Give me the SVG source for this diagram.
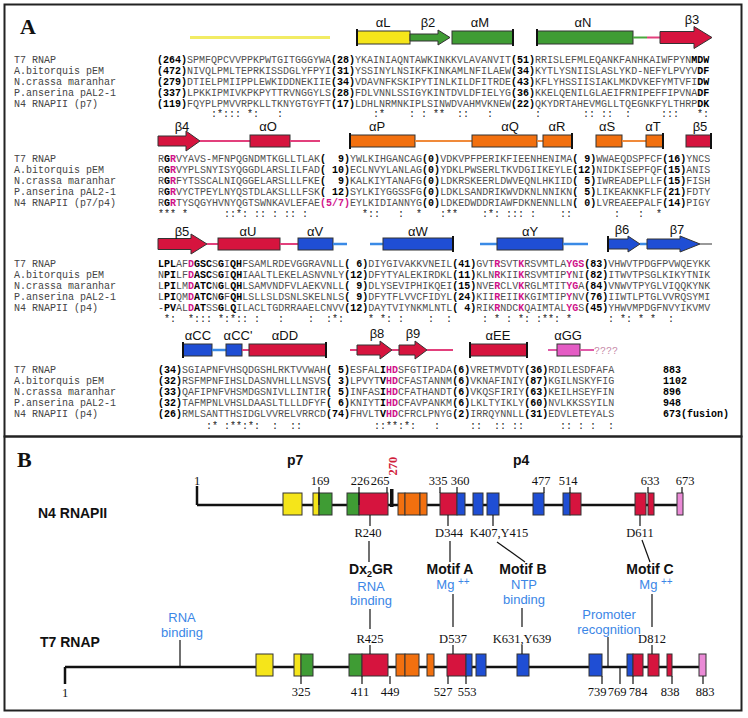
<svg xmlns="http://www.w3.org/2000/svg" width="748" height="718" viewBox="0 0 748 718">
<style>
.nm{font-family:"Liberation Mono",monospace;font-size:10px;fill:#444}
.sq{font-family:"Liberation Mono",monospace;font-size:10px;fill:#505050}
.b{font-weight:bold;fill:#000}
.m{font-weight:bold;fill:#d0128a}
.cs{font-family:"Liberation Mono",monospace;font-size:10px;fill:#222}
.ss{font-family:"Liberation Sans",Arial,sans-serif;font-size:13px;fill:#111;text-anchor:middle}
.pl{font-family:"Liberation Serif","Times New Roman",serif;font-weight:bold;font-size:22px;fill:#111}
.frame{fill:none;stroke:#222;stroke-width:2}
.ly{stroke:#f2ec64;stroke-width:3}
.lg{stroke:#4aa83e;stroke-width:2}
.lr{stroke:#e2407c;stroke-width:2}
.lo{stroke:#f08a3a;stroke-width:2}
.lb{stroke:#3a8ae6;stroke-width:2.5}
.lm{stroke:#e05aa8;stroke-width:2}
.lgr{stroke:#999;stroke-width:2}
.by{fill:#f5e51a;stroke:#333;stroke-width:1}
.bg{fill:#3f9c34;stroke:#333;stroke-width:1}
.br{fill:#d6143e;stroke:#333;stroke-width:1}
.bo{fill:#f2700f;stroke:#333;stroke-width:1}
.bb{fill:#1f4ed4;stroke:#333;stroke-width:1}
.bm{fill:#e45cc4;stroke:#333;stroke-width:1}
.bp{fill:#ea8ad6;stroke:#333;stroke-width:1}
.bar{stroke:#111;stroke-width:2}
.num{font-family:"Liberation Serif","Times New Roman",serif;font-size:12.5px;fill:#111;text-anchor:middle}
.big{font-family:"Liberation Sans",Arial,sans-serif;font-weight:bold;font-size:14px;fill:#111}
.mot{font-family:"Liberation Sans",Arial,sans-serif;font-weight:bold;font-size:14px;fill:#111;text-anchor:middle}
.blue{font-family:"Liberation Sans",Arial,sans-serif;font-size:13px;fill:#3b86e6;text-anchor:middle}
.tk{stroke:#111;stroke-width:1.2}
.axis{stroke:#111;stroke-width:2.5}
</style>
<rect x="0" y="0" width="748" height="718" fill="#fff"/>
<rect class="frame" x="4.5" y="4.5" width="737" height="432"/>
<rect class="frame" x="4.5" y="436.5" width="737" height="274"/>

<g id="panelA">
<text class="pl" x="20" y="34">A</text>

<g id="block1">
<g id="ss1">
<line class="ly" x1="190" y1="37.5" x2="330" y2="37.5"/>
<rect class="by" x="357" y="31" width="53" height="13"/><line class="bar" x1="357" y1="29" x2="357" y2="46"/>
<polygon class="bg" points="410,34 438,34 438,30 450,37.5 438,45 438,41 410,41"/>
<rect class="bg" x="452" y="31" width="61" height="13"/><line class="bar" x1="513" y1="29" x2="513" y2="46"/>
<rect class="bg" x="537" y="31" width="96" height="13"/><line class="bar" x1="537" y1="29" x2="537" y2="46"/>
<line class="lg" x1="633" y1="37.5" x2="647" y2="37.5"/><line class="lr" x1="647" y1="37.5" x2="660" y2="37.5"/>
<polygon class="br" points="660,31.5 694,31.5 694,26.5 712,37.5 694,48.5 694,43.5 660,43.5"/>
<text class="ss" x="383" y="27">αL</text><text class="ss" x="428" y="27">β2</text><text class="ss" x="480" y="27">αM</text><text class="ss" x="583" y="27">αN</text><text class="ss" x="692" y="24">β3</text>
</g>
<text class="nm" x="14" y="63">T7 RNAP</text>
<text class="nm" x="14" y="74">A.bitorquis pEM</text>
<text class="nm" x="14" y="85">N.crassa maranhar</text>
<text class="nm" x="14" y="96">P.anserina pAL2-1</text>
<text class="nm" x="14" y="107">N4 RNAPII (p7)</text>
<text class="sq" x="157" y="63"><tspan class="b">(264)</tspan>SPMFQPCVVPPKPWTGITGGGYWA<tspan class="b">(28)</tspan>YKAINIAQNTAWKINKKVLAVANVIT<tspan class="b">(51)</tspan>RRISLEFMLEQANKFANHKAIWFPYN<tspan class="b">MDW</tspan></text>
<text class="sq" x="157" y="74"><tspan class="b">(472)</tspan>NIVQLPMLTEPRKISSDGLYFPYI<tspan class="b">(31)</tspan>YSSINYLNSIKFKINKAMLNFILAEW<tspan class="b">(34)</tspan>KYTLYSNIISLASLYKD-NEFYLPVYV<tspan class="b">DF</tspan></text>
<text class="sq" x="157" y="85"><tspan class="b">(279)</tspan>DTIELPMIIPPLEWKIDDNEKIIE<tspan class="b">(34)</tspan>VDAVNFKSKIPYTINLKILDFITRDE<tspan class="b">(43)</tspan>KFLYHSSIISIAKLMKDVKEFYMTVFI<tspan class="b">DW</tspan></text>
<text class="sq" x="157" y="96"><tspan class="b">(337)</tspan>LPKKIPMIVKPKPYTTRVNGGYLS<tspan class="b">(28)</tspan>FDLVNNLSSIGYKINTDVLDFIELYG<tspan class="b">(36)</tspan>KKELQENILGLAEIFRNIPEFFIPVNA<tspan class="b">DF</tspan></text>
<text class="sq" x="157" y="107"><tspan class="b">(119)</tspan>FQYPLPMVVRPKLLTKNYGTGYFT<tspan class="b">(17)</tspan>LDHLNRMNKIPLSINWDVAHMVKNEW<tspan class="b">(22)</tspan>QKYDRTAHEVMGLLTQEGNKFYLTHRP<tspan class="b">DK</tspan></text>
<text class="cs" y="117"><tspan x="211">:*:::</tspan><tspan x="247">*:</tspan><tspan x="277">:</tspan><tspan x="373">:*</tspan><tspan x="409">:</tspan><tspan x="421">:</tspan><tspan x="433">**</tspan><tspan x="457">::</tspan><tspan x="487">:</tspan><tspan x="535">:</tspan><tspan x="583">::</tspan><tspan x="601">::</tspan><tspan x="625">:</tspan><tspan x="661">:::</tspan><tspan x="697">*:</tspan></text>
</g>

<g id="block2">
<g id="ss2">
<polygon class="br" points="158,136 186,136 186,131 200,141 186,151 186,146 158,146"/>
<line class="lr" x1="200" y1="141" x2="250" y2="141"/>
<rect class="br" x="250" y="135" width="40" height="12"/>
<line class="lr" x1="290" y1="141" x2="320" y2="141"/>
<rect class="bo" x="350" y="135" width="65" height="12"/><line class="bar" x1="350" y1="133" x2="350" y2="149"/>
<line class="lo" x1="415" y1="141" x2="472" y2="141"/>
<rect class="bo" x="472" y="135" width="65" height="12"/>
<line class="lo" x1="537" y1="141" x2="543" y2="141"/>
<rect class="bo" x="543" y="135" width="29" height="12"/><line class="bar" x1="572" y1="133" x2="572" y2="149"/>
<rect class="bo" x="596" y="135" width="26" height="12"/>
<line class="lo" x1="622" y1="141" x2="646" y2="141"/>
<rect class="bo" x="646" y="135" width="17" height="12"/><line class="bar" x1="663" y1="133" x2="663" y2="149"/>
<rect class="br" x="686" y="135" width="25" height="12"/><line class="bar" x1="711" y1="133" x2="711" y2="149"/>
<text class="ss" x="182" y="131">β4</text><text class="ss" x="268" y="131">αO</text><text class="ss" x="377" y="131">αP</text><text class="ss" x="510" y="131">αQ</text><text class="ss" x="557" y="131">αR</text><text class="ss" x="607" y="131">αS</text><text class="ss" x="653" y="131">αT</text><text class="ss" x="700" y="131">β5</text>
</g>
<text class="nm" x="14" y="162">T7 RNAP</text>
<text class="nm" x="14" y="173">A.bitorquis pEM</text>
<text class="nm" x="14" y="184">N.crassa maranhar</text>
<text class="nm" x="14" y="195">P.anserina pAL2-1</text>
<text class="nm" x="14" y="206">N4 RNAPII (p7/p4)</text>
<text class="sq" x="158" y="162">R<tspan class="b">G</tspan><tspan class="m">R</tspan>VYAVS-MFNPQGNDMTKGLLTLAK<tspan class="b">(&#160;&#160;9)</tspan>YWLKIHGANCAG<tspan class="b">(0)</tspan>VDKVPFPERIKFIEENHENIMA<tspan class="b">(&#160;9)</tspan>WWAEQDSPFCF<tspan class="b">(16)</tspan>YNCS</text>
<text class="sq" x="158" y="173">R<tspan class="b">G</tspan><tspan class="m">R</tspan>VYPLSNYISYQGGDLARSLILFAD<tspan class="b">(&#160;10)</tspan>ECLNVYLANLAG<tspan class="b">(0)</tspan>YDKLPWSERLTKVDGIIKEYLE<tspan class="b">(12)</tspan>NIDKISEPFQF<tspan class="b">(15)</tspan>ANIS</text>
<text class="sq" x="158" y="184">R<tspan class="b">G</tspan><tspan class="m">R</tspan>FYTSSCALNIQGGELARSLLLFKE<tspan class="b">(&#160;&#160;9)</tspan>KALKIYTANAFG<tspan class="b">(0)</tspan>LDKRSKEERLDWVEQNLHKIID<tspan class="b">(&#160;5)</tspan>IWREADEPLLF<tspan class="b">(15)</tspan>FISH</text>
<text class="sq" x="158" y="195">R<tspan class="b">G</tspan><tspan class="m">R</tspan>VYCTPEYLNYQSTDLAKSLLLFSK<tspan class="b">(&#160;12)</tspan>SYLKIYGGSSFG<tspan class="b">(0)</tspan>LDKLSANDRIKWVDKNLNNIKN<tspan class="b">(&#160;5)</tspan>LIKEAKNKFLF<tspan class="b">(21)</tspan>FDTY</text>
<text class="sq" x="158" y="206">R<tspan class="b">G</tspan><tspan class="m">R</tspan>TYSQGYHVNYQGTSWNKAVLEFAE<tspan class="m">(5/7)</tspan>EYLKIDIANNYG<tspan class="b">(0)</tspan>LDKEDWDDRIAWFDKNENNLLN<tspan class="b">(&#160;0)</tspan>LVREAEEPALF<tspan class="b">(14)</tspan>PIGY</text>
<text class="cs" y="217"><tspan x="158">***</tspan><tspan x="182">*</tspan><tspan x="224">::*:</tspan><tspan x="254">::</tspan><tspan x="272">:</tspan><tspan x="284">::</tspan><tspan x="302">:</tspan><tspan x="362">*::</tspan><tspan x="398">:</tspan><tspan x="416">*</tspan><tspan x="440">:**</tspan><tspan x="482">:*:</tspan><tspan x="506">:::</tspan><tspan x="530">:</tspan><tspan x="560">::</tspan><tspan x="614">:</tspan><tspan x="638">:</tspan><tspan x="656">*</tspan></text>
</g>

<g id="block3">
<g id="ss3">
<polygon class="br" points="158,238.5 191,238.5 191,234 207,244 191,254 191,249.5 158,249.5"/>
<line class="lr" x1="207" y1="244" x2="218" y2="244"/>
<rect class="br" x="218" y="238" width="62" height="12"/>
<line class="lr" x1="280" y1="244" x2="298" y2="244"/>
<rect class="bb" x="298" y="238" width="35" height="12"/>
<line class="lb" x1="333" y1="244" x2="347" y2="244"/>
<line class="lb" x1="370" y1="244" x2="383" y2="244"/>
<rect class="bb" x="383" y="238" width="70" height="12"/><line class="bar" x1="453" y1="236" x2="453" y2="252"/>
<line class="lb" x1="480" y1="244" x2="497" y2="244"/>
<rect class="bb" x="497" y="238" width="66" height="12"/>
<line class="lb" x1="563" y1="244" x2="588" y2="244"/>
<polygon class="bb" points="608,239 628,239 628,236 640,244 628,252 628,249 608,249"/><line class="bar" x1="608" y1="236" x2="608" y2="252"/>
<line class="lb" x1="640" y1="244" x2="647" y2="244"/>
<polygon class="bb" points="647,239 680,239 680,236 700,244 680,252 680,249 647,249"/>
<line class="lgr" x1="700" y1="244" x2="712" y2="244"/>
<text class="ss" x="182" y="236">β5</text><text class="ss" x="248" y="236">αU</text><text class="ss" x="315" y="236">αV</text><text class="ss" x="418" y="236">αW</text><text class="ss" x="530" y="236">αY</text><text class="ss" x="622" y="234">β6</text><text class="ss" x="677" y="234">β7</text>
</g>
<text class="nm" x="14" y="267">T7 RNAP</text>
<text class="nm" x="14" y="278">A.bitorquis pEM</text>
<text class="nm" x="14" y="289">N.crassa maranhar</text>
<text class="nm" x="14" y="300">P.anserina pAL2-1</text>
<text class="nm" x="14" y="311">N4 RNAPII (p4)</text>
<text class="sq" x="158" y="267"><tspan class="b">LPL</tspan>AF<tspan class="m">D</tspan><tspan class="b">GSC</tspan>S<tspan class="b">G</tspan>I<tspan class="b">QH</tspan>FSAMLRDEVGGRAVNLL<tspan class="b">(&#160;6)</tspan>DIYGIVAKKVNEIL<tspan class="b">(41)</tspan>GVT<tspan class="m">R</tspan>SVT<tspan class="m">K</tspan>RSVMTLA<tspan class="m">YGS</tspan><tspan class="b">(83)</tspan>VHWVTPDGFPVWQEYKK</text>
<text class="sq" x="158" y="278">N<tspan class="b">PI</tspan>LF<tspan class="m">D</tspan><tspan class="b">ASC</tspan>S<tspan class="b">G</tspan>I<tspan class="b">QH</tspan>IAALTLEKELASNVNLY<tspan class="b">(12)</tspan>DFYTYALEKIRDKL<tspan class="b">(11)</tspan>KLN<tspan class="m">R</tspan>KII<tspan class="m">K</tspan>RSVMTIP<tspan class="m">Y</tspan>NI<tspan class="b">(82)</tspan>ITWVTPSGLKIKYTNIK</text>
<text class="sq" x="158" y="289">L<tspan class="b">PI</tspan>LM<tspan class="m">D</tspan><tspan class="b">ATC</tspan>N<tspan class="b">G</tspan>L<tspan class="b">QH</tspan>LSAMVNDFVLAEKVNLL<tspan class="b">(&#160;9)</tspan>DLYSEVIPHIKQEI<tspan class="b">(15)</tspan>NVE<tspan class="m">R</tspan>CLV<tspan class="m">K</tspan>RGLMTIT<tspan class="m">YG</tspan>A<tspan class="b">(84)</tspan>VNWVTPYGLVIQQKYNK</text>
<text class="sq" x="158" y="300">L<tspan class="b">PI</tspan>QM<tspan class="m">D</tspan><tspan class="b">ATC</tspan>N<tspan class="b">G</tspan>F<tspan class="b">QH</tspan>LSLLSLDSNLSKELNLS<tspan class="b">(&#160;9)</tspan>DFYTFLVVCFIDYL<tspan class="b">(24)</tspan>KII<tspan class="m">R</tspan>EII<tspan class="m">K</tspan>KGIMTIP<tspan class="m">Y</tspan>NV<tspan class="b">(76)</tspan>IIWTLPTGLVVRQSYMI</text>
<text class="sq" x="158" y="311">-<tspan class="b">PV</tspan>AL<tspan class="m">D</tspan><tspan class="b">AT</tspan>SS<tspan class="b">G</tspan>L<tspan class="b">Q</tspan>ILACLTGDRRAAELCNVV<tspan class="b">(12)</tspan>DAYTVIYNKMLNTL<tspan class="b">(&#160;4)</tspan>RIK<tspan class="m">R</tspan>NDC<tspan class="m">K</tspan>QAIMTAL<tspan class="m">YG</tspan>S<tspan class="b">(45)</tspan>YHWVMPDGFNVYIKVMV</text>
<text class="cs" y="322"><tspan x="164">*:</tspan><tspan x="188">*:::</tspan><tspan x="218">*:*::</tspan><tspan x="254">:</tspan><tspan x="278">:</tspan><tspan x="308">:</tspan><tspan x="326">:*:</tspan><tspan x="368">*</tspan><tspan x="380">*:</tspan><tspan x="398">:</tspan><tspan x="428">:</tspan><tspan x="446">:</tspan><tspan x="482">:</tspan><tspan x="494">*</tspan><tspan x="506">:</tspan><tspan x="518">*:</tspan><tspan x="536">:**:</tspan><tspan x="566">*</tspan><tspan x="608">:</tspan><tspan x="620">*:</tspan><tspan x="638">*</tspan><tspan x="650">*</tspan><tspan x="668">:</tspan></text>
</g>

<g id="block4">
<g id="ss4">
<rect class="bb" x="183" y="344" width="29" height="12"/><line class="bar" x1="183" y1="342" x2="183" y2="358"/>
<line class="lb" x1="212" y1="350" x2="226" y2="350"/>
<rect class="bb" x="226" y="344" width="16" height="12"/>
<line class="lr" x1="242" y1="350" x2="249" y2="350"/>
<rect class="br" x="249" y="344" width="77" height="12"/><line class="bar" x1="326" y1="342" x2="326" y2="358"/>
<line class="lr" x1="350" y1="350" x2="357" y2="350"/>
<polygon class="br" points="357,345 380,345 380,341 392,350 380,359 380,355 357,355"/>
<line class="lr" x1="392" y1="350" x2="399" y2="350"/>
<polygon class="br" points="399,345 415,345 415,341 427,350 415,359 415,355 399,355"/>
<line class="lr" x1="427" y1="350" x2="453" y2="350"/>
<rect class="br" x="470" y="344" width="57" height="12"/><line class="bar" x1="470" y1="342" x2="470" y2="358"/><line class="bar" x1="527" y1="342" x2="527" y2="358"/>
<line class="lm" x1="548" y1="350" x2="557" y2="350"/>
<rect class="bm" x="557" y="344" width="23" height="12"/>
<line class="lm" x1="580" y1="350" x2="594" y2="350"/>
<text class="cs" x="594" y="354" style="fill:#c78aa8">????</text>
<text class="ss" x="198" y="340">αCC</text><text class="ss" x="238" y="340">αCC'</text><text class="ss" x="285" y="340">αDD</text><text class="ss" x="377" y="338">β8</text><text class="ss" x="413" y="338">β9</text><text class="ss" x="498" y="340">αEE</text><text class="ss" x="568" y="340">αGG</text>
</g>
<text class="nm" x="14" y="373">T7 RNAP</text>
<text class="nm" x="14" y="384">A.bitorquis pEM</text>
<text class="nm" x="14" y="395">N.crassa maranhar</text>
<text class="nm" x="14" y="406">P.anserina pAL2-1</text>
<text class="nm" x="14" y="417">N4 RNAPII (p4)</text>
<text class="sq" x="158" y="373"><tspan class="b">(34)</tspan>SGIAPNFVHSQDGSHLRKTVVWAH<tspan class="b">(&#160;5)</tspan>ESFAL<tspan class="b">I</tspan><tspan class="m">HD</tspan>SFGTIPADA<tspan class="b">(6)</tspan>VRETMVDTY<tspan class="b">(36)</tspan>RDILESDFAFA</text>
<text class="sq" x="158" y="384"><tspan class="b">(32)</tspan>RSFMPNFIHSLDASNVHLLLNSVS<tspan class="b">(&#160;3)</tspan>LPVYT<tspan class="b">V</tspan><tspan class="m">HD</tspan>CFASTANNM<tspan class="b">(6)</tspan>VKNAFINIY<tspan class="b">(87)</tspan>KGILNSKYFIG</text>
<text class="sq" x="158" y="395"><tspan class="b">(33)</tspan>QAFIPNFVHSMDGSNIVLLINTIR<tspan class="b">(&#160;5)</tspan>INFAS<tspan class="b">I</tspan><tspan class="m">HD</tspan>CFATHANDT<tspan class="b">(6)</tspan>VKQSFIRIY<tspan class="b">(63)</tspan>KEILHSEYFIN</text>
<text class="sq" x="158" y="406"><tspan class="b">(32)</tspan>TAFMPNLVHSLDAASLTLLLDFYF<tspan class="b">(&#160;6)</tspan>KNIYT<tspan class="b">I</tspan><tspan class="m">HD</tspan>CFAVPANKM<tspan class="b">(6)</tspan>LKLTYIKLY<tspan class="b">(60)</tspan>NVLKKSSYILN</text>
<text class="sq" x="158" y="417"><tspan class="b">(26)</tspan>RMLSANTTHSIDGLVVRELVRRCD<tspan class="b">(74)</tspan>FHVLT<tspan class="b">V</tspan><tspan class="m">HD</tspan>CFRCLPNYG<tspan class="b">(2)</tspan>IRRQYNNLL<tspan class="b">(31)</tspan>EDVLETEYALS</text>
<text class="sq b" x="663" y="373">883</text>
<text class="sq b" x="663" y="384">1102</text>
<text class="sq b" x="663" y="395">896</text>
<text class="sq b" x="663" y="406">948</text>
<text class="sq b" x="663" y="417">673(fusion)</text>
<text class="cs" y="429"><tspan x="206">:*</tspan><tspan x="224">:**:*:</tspan><tspan x="272">:</tspan><tspan x="290">::</tspan><tspan x="374">::**:*:</tspan><tspan x="434">:</tspan><tspan x="470">::</tspan><tspan x="494">::</tspan><tspan x="512">::</tspan><tspan x="560">::</tspan><tspan x="578">:</tspan><tspan x="590">:</tspan><tspan x="608">:</tspan></text>
</g>
</g>

<g id="panelB">
<text class="pl" x="17" y="467">B</text>
<text class="big" x="287" y="465">p7</text>
<text class="big" x="513" y="465">p4</text>

<g id="n4">
<text class="big" x="38" y="518">N4 RNAPII</text>
<line class="axis" x1="197" y1="486" x2="197" y2="505"/>
<line class="axis" x1="197" y1="505" x2="680" y2="505"/>
<text class="num" x="197" y="485">1</text>
<rect class="by" x="283" y="493" width="19" height="22"/>
<rect class="by" x="313" y="493" width="6" height="22"/><rect class="bg" x="319" y="493" width="13" height="22"/>
<rect class="bg" x="347" y="493" width="12" height="22"/><rect class="br" x="359" y="493" width="29" height="22"/>
<rect x="390" y="489" width="3.5" height="18" fill="#111"/>
<rect class="bo" x="398" y="493" width="7" height="22"/><rect class="bo" x="405" y="493" width="15" height="22"/><rect class="bo" x="420" y="493" width="7" height="22"/>
<rect class="br" x="440" y="493" width="17" height="22"/><rect class="bb" x="457" y="493" width="8" height="22"/>
<rect class="bb" x="473" y="493" width="10" height="22"/><rect class="bb" x="487" y="493" width="12" height="22"/>
<rect class="bb" x="533" y="493" width="11" height="22"/>
<rect class="bb" x="563" y="493" width="7" height="22"/><rect class="br" x="570" y="493" width="11" height="22"/>
<rect class="br" x="635" y="493" width="11" height="22"/><rect class="br" x="648" y="493" width="6" height="22"/>
<rect class="bp" x="677" y="493" width="6" height="22"/>
<g id="n4ticks">
<line class="tk" x1="319" y1="487" x2="319" y2="505"/><text class="num" x="320" y="485">169</text>
<line class="tk" x1="359" y1="487" x2="359" y2="505"/><text class="num" x="360" y="485">226</text>
<line class="tk" x1="387" y1="487" x2="387" y2="493"/><text class="num" x="380" y="485">265</text>
<text class="num" x="0" y="0" transform="translate(397,466) rotate(-90)" style="fill:#d0203a;font-weight:bold">270</text>
<line class="tk" x1="440" y1="487" x2="440" y2="493"/><text class="num" x="438" y="485">335</text>
<line class="tk" x1="457" y1="487" x2="457" y2="493"/><text class="num" x="460" y="485">360</text>
<line class="tk" x1="544" y1="487" x2="544" y2="493"/><text class="num" x="541" y="485">477</text>
<line class="tk" x1="570" y1="487" x2="570" y2="493"/><text class="num" x="568" y="485">514</text>
<line class="tk" x1="648" y1="487" x2="648" y2="493"/><text class="num" x="650" y="485">633</text>
<line class="tk" x1="682" y1="487" x2="682" y2="493"/><text class="num" x="685" y="485">673</text>
<line class="tk" x1="370" y1="515" x2="370" y2="526"/><text class="num" x="368" y="537">R240</text>
<line class="tk" x1="448" y1="515" x2="448" y2="526"/><text class="num" x="449" y="537">D344</text>
<line class="tk" x1="493" y1="515" x2="493" y2="526"/><text class="num" x="499" y="537">K407,Y415</text>
<line class="tk" x1="640" y1="515" x2="640" y2="526"/><text class="num" x="640" y="537">D611</text>
</g>
</g>

<g id="motifs">
<line class="tk" x1="369" y1="541" x2="369" y2="562"/>
<line class="tk" x1="450" y1="541" x2="450" y2="562"/>
<line class="tk" x1="497" y1="542" x2="525" y2="562"/>
<line class="tk" x1="642" y1="540" x2="650" y2="562"/>
<text class="mot" x="371" y="574">Dx<tspan dy="3" font-size="9">2</tspan><tspan dy="-3">GR</tspan></text>
<text class="mot" x="450" y="574">Motif A</text>
<text class="mot" x="523" y="574">Motif B</text>
<text class="mot" x="650" y="574">Motif C</text>
<text class="blue" x="371" y="591">RNA</text><text class="blue" x="371" y="605">binding</text>
<text class="blue" x="453" y="589">Mg <tspan dy="-4" font-size="10">++</tspan></text>
<text class="blue" x="524" y="589">NTP</text><text class="blue" x="524" y="604">binding</text>
<text class="blue" x="656" y="589">Mg <tspan dy="-4" font-size="10">++</tspan></text>
<text class="blue" x="182" y="622">RNA</text><text class="blue" x="182" y="637">binding</text>
<text class="blue" x="609" y="619">Promoter</text><text class="blue" x="609" y="634">recognition</text>
<line class="tk" x1="370" y1="609" x2="370" y2="629"/>
<line class="tk" x1="453" y1="594" x2="453" y2="627"/>
<line class="tk" x1="522" y1="608" x2="522" y2="627"/>
<line class="tk" x1="652" y1="594" x2="652" y2="627"/>
<line class="tk" x1="180" y1="640" x2="180" y2="667"/>
<line class="tk" x1="608" y1="637" x2="608" y2="667"/>
</g>

<g id="t7">
<text class="big" x="40" y="647">T7 RNAP</text>
<line class="axis" x1="65" y1="667" x2="702" y2="667"/>
<line class="axis" x1="65" y1="667" x2="65" y2="684"/>
<text class="num" x="65" y="697">1</text>
<rect class="by" x="256" y="654" width="17" height="22"/>
<rect class="by" x="294" y="654" width="7" height="22"/><rect class="bg" x="301" y="654" width="12" height="22"/>
<rect class="bg" x="349" y="654" width="13" height="22"/><rect class="br" x="362" y="654" width="26" height="22"/>
<rect class="bo" x="396" y="654" width="9" height="22"/><rect class="bo" x="405" y="654" width="14" height="22"/>
<rect class="bo" x="427" y="654" width="7" height="22"/>
<rect class="br" x="447" y="654" width="19" height="22"/><rect class="bb" x="466" y="654" width="6" height="22"/>
<rect class="bb" x="476" y="654" width="10" height="22"/>
<rect class="bb" x="517" y="654" width="12" height="22"/>
<rect class="bb" x="589" y="654" width="13" height="22"/>
<rect class="bb" x="627" y="654" width="6" height="22"/><rect class="br" x="633" y="654" width="10" height="22"/>
<rect class="br" x="648" y="654" width="11" height="22"/>
<rect class="br" x="667" y="654" width="5" height="22"/>
<rect class="bp" x="699" y="654" width="7" height="22"/>
<g id="t7ticks">
<line class="tk" x1="370" y1="645" x2="370" y2="654"/><text class="num" x="370" y="643">R425</text>
<line class="tk" x1="453" y1="645" x2="453" y2="654"/><text class="num" x="453" y="643">D537</text>
<line class="tk" x1="522" y1="645" x2="522" y2="654"/><text class="num" x="522" y="643">K631,Y639</text>
<line class="tk" x1="652" y1="645" x2="652" y2="654"/><text class="num" x="652" y="643">D812</text>
<line class="tk" x1="301" y1="676" x2="301" y2="684"/><text class="num" x="301" y="696">325</text>
<line class="tk" x1="362" y1="676" x2="362" y2="684"/><text class="num" x="360" y="696">411</text>
<line class="tk" x1="390" y1="676" x2="390" y2="684"/><text class="num" x="390" y="696">449</text>
<line class="tk" x1="448" y1="676" x2="448" y2="684"/><text class="num" x="443" y="696">527</text>
<line class="tk" x1="466" y1="676" x2="466" y2="684"/><text class="num" x="467" y="696">553</text>
<line class="tk" x1="602" y1="676" x2="602" y2="684"/><text class="num" x="597" y="696">739</text>
<line class="tk" x1="620" y1="667" x2="620" y2="684"/><text class="num" x="617" y="696">769</text>
<line class="tk" x1="633" y1="676" x2="633" y2="684"/><text class="num" x="638" y="696">784</text>
<line class="tk" x1="672" y1="676" x2="672" y2="684"/><text class="num" x="670" y="696">838</text>
<line class="tk" x1="703" y1="676" x2="703" y2="684"/><text class="num" x="705" y="696">883</text>
</g>
</g>
</g>
</svg>
